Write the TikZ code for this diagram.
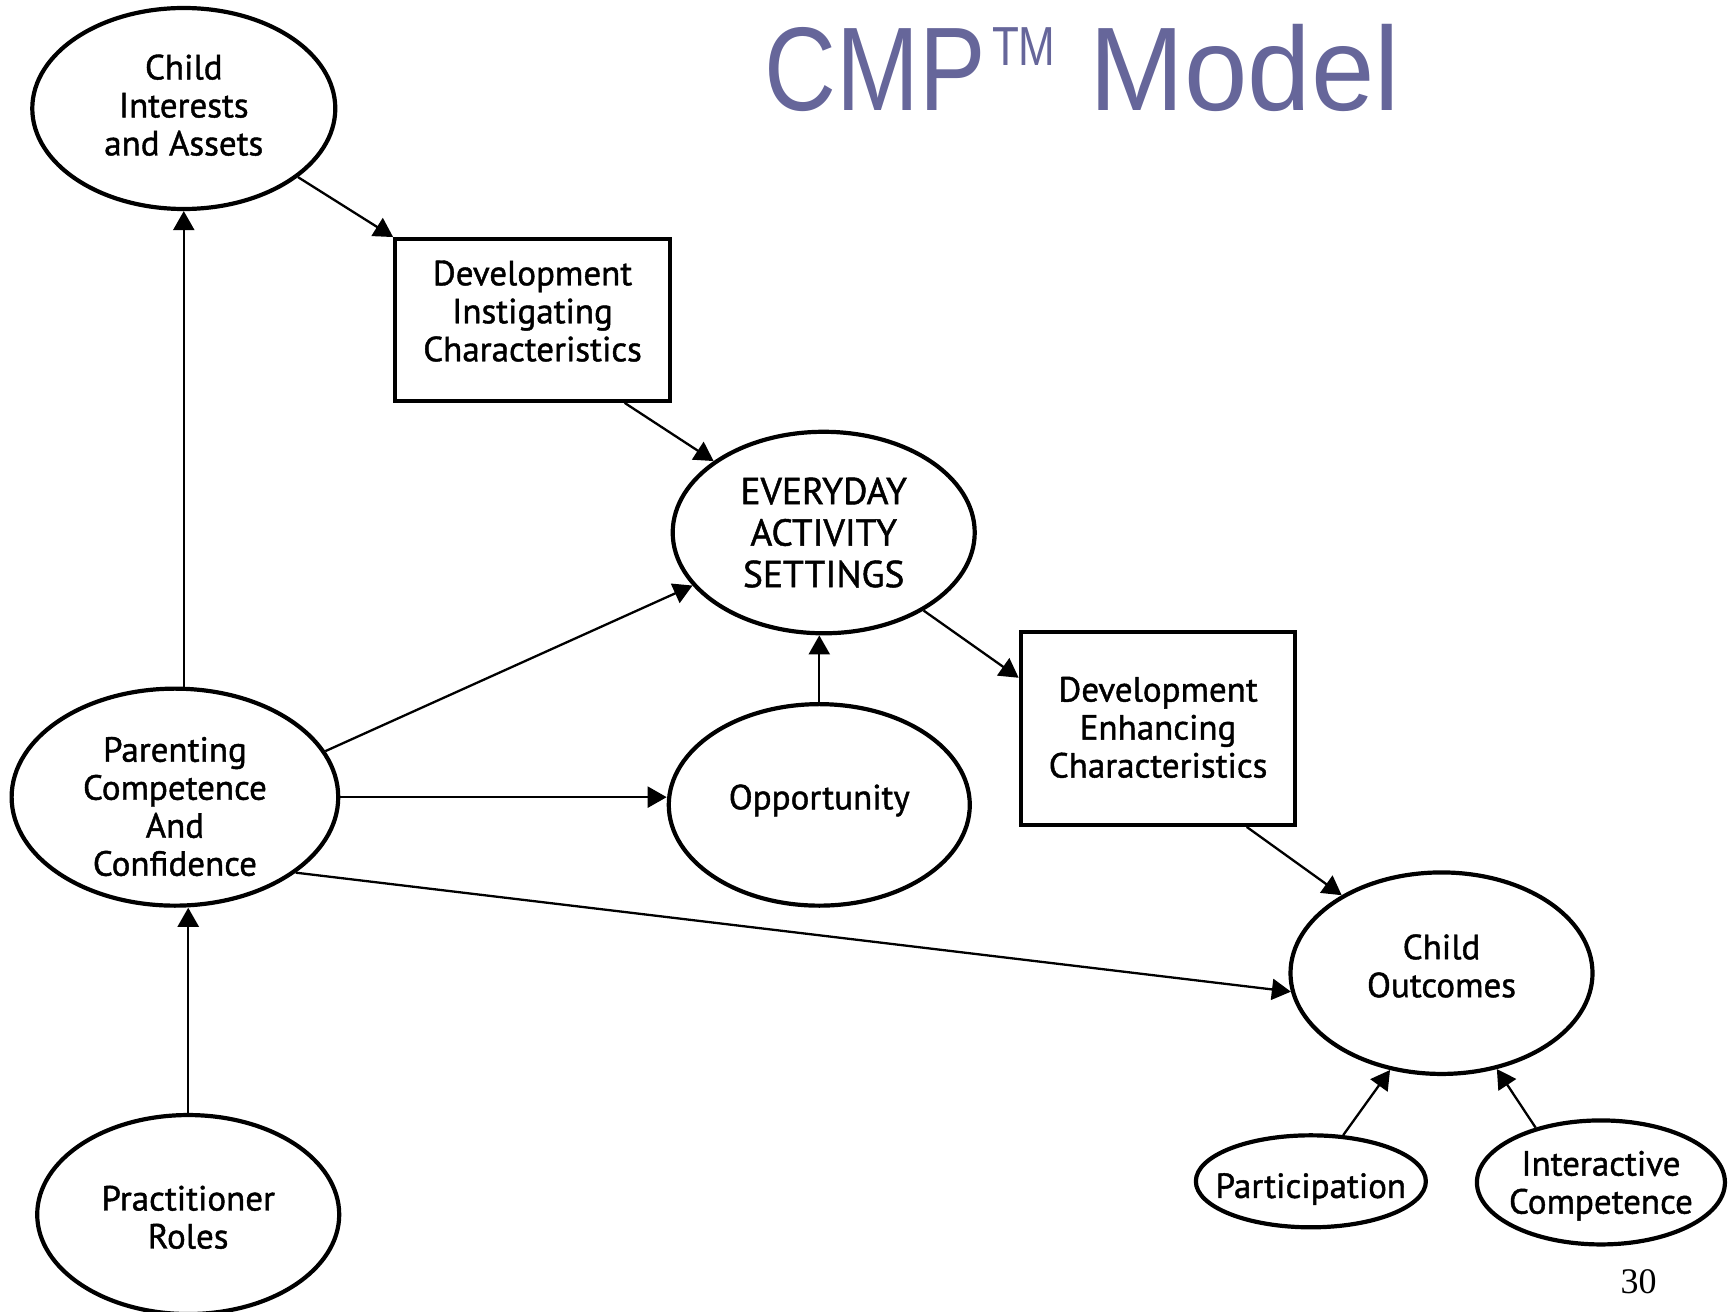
\documentclass[tikz,border=0pt]{standalone}
\usepackage{fontspec}
\setmainfont[FakeBold=1.2]{PT Sans}
\newfontfamily\labfont[FakeBold=1.2]{PT Sans}
\newfontfamily\titlefont{Liberation Sans}
\newfontfamily\numfont{Liberation Serif}
\usetikzlibrary{arrows.meta,shapes.geometric}
\definecolor{titleblue}{RGB}{102,102,154}
\begin{document}
\begin{tikzpicture}[x=1.1071pt,y=-1.1071pt,
  ell/.style={ellipse,draw,line width=4.2pt,inner sep=0pt},
  boxn/.style={rectangle,draw,line width=4.2pt,inner sep=0pt},
  txt/.style={inner sep=0pt,align=center,font=\labfont\fontsize{35}{38}\selectfont},
  arr/.style={-{Triangle[length=19pt,width=21pt]},line width=2.3pt}]
\useasboundingbox (0,0) rectangle (1568,1185);

\node[font=\titlefont\fontsize{119}{120}\selectfont,text=titleblue,anchor=base west,inner sep=0pt] (title) at (690,100)
  {\scalebox{0.837}[1]{CMP}\hspace*{6.6pt}{\fontsize{55}{55}\selectfont\raisebox{45.6pt}{\scalebox{0.8}[1]{TM}}}\hspace*{34pt}\scalebox{0.958}[1]{Model}};
\node[font=\numfont\fontsize{36}{36}\selectfont,anchor=base] (pnum) at (1480,1168) {30};

% shapes
\node[ell,minimum width=303pt,minimum height=201pt] (ci) at (166,98) {};
\node[boxn,minimum width=274.6pt,minimum height=161.6pt] (dic) at (481,289) {};
\node[ell,minimum width=302pt,minimum height=201.5pt] (eas) at (744,481) {};
\node[boxn,minimum width=274.6pt,minimum height=192.6pt] (dec) at (1046,658) {};
\node[ell,minimum width=326.6pt,minimum height=217pt] (pc) at (158,720) {};
\node[ell,minimum width=301pt,minimum height=201.5pt] (opp) at (740,727) {};
\node[ell,minimum width=302pt,minimum height=201.5pt] (co) at (1302,879) {};
\node[ell,minimum width=302pt,minimum height=199pt] (pr) at (170,1097) {};
\node[ell,minimum width=230pt,minimum height=92pt] (part) at (1184,1067) {};
\node[ell,minimum width=248pt,minimum height=124pt] (ic) at (1446,1068) {};

% texts
\node[txt] (cit) at (166,95) {Child\\Interests\\and Assets};
\node[txt] (dict) at (481,281) {Development\\Instigating\\Characteristics};
\node[txt,font=\labfont\fontsize{37.5}{41.5}\selectfont] (east) at (744,481) {EVERYDAY\\ACTIVITY\\SETTINGS};
\node[txt] (dect) at (1046,657) {Development\\Enhancing\\Characteristics};
\node[txt] (pct) at (158,728.5) {Parenting\\Competence\\And\\Confidence};
\node[txt] (oppt) at (740,723) {Opportunity};
\node[txt] (cot) at (1302,872.5) {Child\\Outcomes};
\node[txt] (prt) at (170,1099.5) {Practitioner\\Roles};
\node[txt] (partt) at (1184,1074) {Participation};
\node[txt] (ict) at (1446,1071) {Interactive\\Competence};

% connectors
\draw[arr] (ci.-31) -- (dic.north west);
\draw[arr] (dic.-42) -- (eas.147);
\draw[arr] (eas.-38) -- (dec.160);
\draw[arr] (dec.-48) -- (co.142);
\draw[arr] (pc.north -| ci.south) -- (ci.south);
\draw[arr] (pc.17) -- (eas.202);
\draw[arr] (pc.east) -- (pc.east -| opp.west);
\draw[arr] (pc.-32) -- (co.187);
\draw[arr] (pr.north) -- (pr.north |- pc.south);
\draw[arr] (opp.north) -- (opp.north |- eas.south);
\draw[arr] (part.55) -- (co.242);
\draw[arr] (ic.140) -- (co.-60);
\end{tikzpicture}
\end{document}
